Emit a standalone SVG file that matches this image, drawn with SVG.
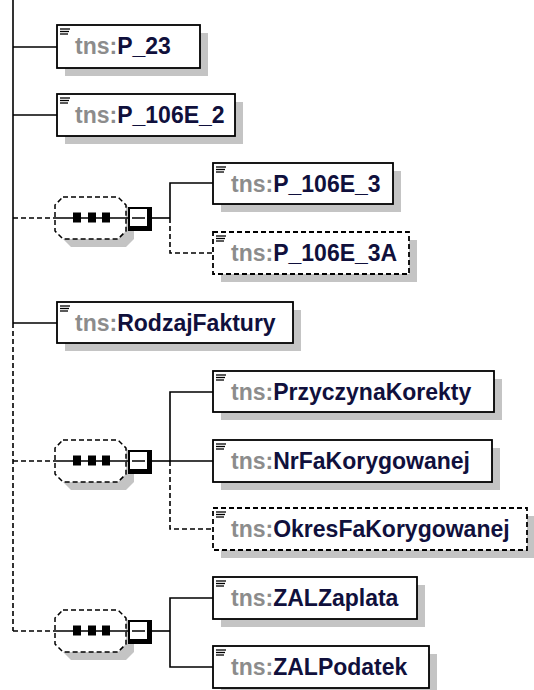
<svg xmlns="http://www.w3.org/2000/svg" width="534" height="690" viewBox="0 0 534 690">
<style>
.bg{fill:#fff}
.sh{fill:#c4c4c4}
.box{fill:#fff;stroke:#000;stroke-width:1.8}
.dash{stroke-dasharray:5,3}
.ln{fill:none;stroke:#000;stroke-width:1.6}
.ico{stroke:#000;stroke-width:1.3}
.t{font-family:"Liberation Sans",Arial,sans-serif;font-weight:bold;font-size:23px}
.pre{fill:#8c8c8c}
.nm{fill:#10103c}
.oct{fill:#fff;stroke:#000;stroke-width:1.5;stroke-dasharray:5,3}
</style>
<defs>
<g id="icon"><line class="ico" x1="3" y1="4" x2="13" y2="4"/><line class="ico" x1="3" y1="6.5" x2="12" y2="6.5"/><line class="ico" x1="3" y1="9" x2="11" y2="9"/></g>
<g id="seq">
<polygon class="sh" points="71,-13 126,-13 134,-5 134,21 126,29 71,29 63,21 63,-5"/>
<polygon class="oct" points="63,-21 118,-21 126,-13 126,13 118,21 63,21 55,13 55,-13"/>
<line class="ln" x1="55" y1="0" x2="128" y2="0"/>
<rect x="73" y="-5.5" width="8" height="10" fill="#000"/>
<rect x="88" y="-5.5" width="8" height="10" fill="#000"/>
<rect x="102" y="-5.5" width="8" height="10" fill="#000"/>
<rect x="128" y="-11" width="24" height="24" fill="#000"/>
<rect x="130" y="-9" width="17" height="17" fill="#fff"/>
<line x1="132" y1="0" x2="145" y2="0" stroke="#000" stroke-width="1.5"/>
<line class="ln" x1="152" y1="0" x2="170" y2="0"/>
</g>
</defs>
<rect class="bg" x="0" y="0" width="534" height="690"/>
<g id="connectors">
<line class="ln" x1="13" y1="0" x2="13" y2="323"/>
<line class="ln dash" x1="13" y1="323" x2="13" y2="631"/>
<line class="ln" x1="13" y1="47" x2="57" y2="47"/>
<line class="ln" x1="13" y1="115" x2="57" y2="115"/>
<line class="ln dash" x1="13" y1="218" x2="55" y2="218"/>
<line class="ln" x1="13" y1="323" x2="57" y2="323"/>
<line class="ln dash" x1="13" y1="461" x2="55" y2="461"/>
<line class="ln dash" x1="13" y1="631" x2="55" y2="631"/>
<polyline class="ln" points="213,183 170,183 170,218"/>
<polyline class="ln dash" points="170,218 170,253 213,253"/>
<polyline class="ln" points="213,392 170,392 170,461 213,461"/>
<polyline class="ln dash" points="170,461 170,529 213,529"/>
<polyline class="ln" points="213,598 170,598 170,667 213,667"/>
</g>
<g id="seq1"><use href="#seq" transform="translate(0,218)"/></g>
<g id="seq2"><use href="#seq" transform="translate(0,461)"/></g>
<g id="seq3"><use href="#seq" transform="translate(0,631)"/></g>
<g id="P_23" transform="translate(57,25)">
<rect class="sh" x="8" y="8" width="143" height="43"/><rect class="box" x="0" y="0" width="143" height="43"/><use href="#icon"/>
<text class="t" x="18" y="29"><tspan class="pre">tns:</tspan><tspan class="nm">P_23</tspan></text></g>
<g id="P_106E_2" transform="translate(57,94)">
<rect class="sh" x="8" y="8" width="178" height="42"/><rect class="box" x="0" y="0" width="178" height="42"/><use href="#icon"/>
<text class="t" x="18" y="29"><tspan class="pre">tns:</tspan><tspan class="nm">P_106E_2</tspan></text></g>
<g id="P_106E_3" transform="translate(213,163)">
<rect class="sh" x="8" y="8" width="180" height="41"/><rect class="box" x="0" y="0" width="180" height="41"/><use href="#icon"/>
<text class="t" x="18" y="29"><tspan class="pre">tns:</tspan><tspan class="nm">P_106E_3</tspan></text></g>
<g id="P_106E_3A" transform="translate(213,232)">
<rect class="sh" x="8" y="8" width="196" height="42"/><rect class="box dash" x="0" y="0" width="196" height="42"/><use href="#icon"/>
<text class="t" x="18" y="29"><tspan class="pre">tns:</tspan><tspan class="nm">P_106E_3A</tspan></text></g>
<g id="RodzajFaktury" transform="translate(57,302)">
<rect class="sh" x="8" y="8" width="236" height="41"/><rect class="box" x="0" y="0" width="236" height="41"/><use href="#icon"/>
<text class="t" x="18" y="29"><tspan class="pre">tns:</tspan><tspan class="nm">RodzajFaktury</tspan></text></g>
<g id="PrzyczynaKorekty" transform="translate(213,371)">
<rect class="sh" x="8" y="8" width="281" height="41"/><rect class="box" x="0" y="0" width="281" height="41"/><use href="#icon"/>
<text class="t" x="18" y="29"><tspan class="pre">tns:</tspan><tspan class="nm">PrzyczynaKorekty</tspan></text></g>
<g id="NrFaKorygowanej" transform="translate(213,440)">
<rect class="sh" x="8" y="8" width="279" height="42"/><rect class="box" x="0" y="0" width="279" height="42"/><use href="#icon"/>
<text class="t" x="18" y="29"><tspan class="pre">tns:</tspan><tspan class="nm">NrFaKorygowanej</tspan></text></g>
<g id="OkresFaKorygowanej" transform="translate(213,508)">
<rect class="sh" x="8" y="8" width="314" height="42"/><rect class="box dash" x="0" y="0" width="314" height="42"/><use href="#icon"/>
<text class="t" x="18" y="29"><tspan class="pre">tns:</tspan><tspan class="nm">OkresFaKorygowanej</tspan></text></g>
<g id="ZALZaplata" transform="translate(213,577)">
<rect class="sh" x="8" y="8" width="204" height="42"/><rect class="box" x="0" y="0" width="204" height="42"/><use href="#icon"/>
<text class="t" x="18" y="29"><tspan class="pre">tns:</tspan><tspan class="nm">ZALZaplata</tspan></text></g>
<g id="ZALPodatek" transform="translate(213,646)">
<rect class="sh" x="8" y="8" width="216" height="42"/><rect class="box" x="0" y="0" width="216" height="42"/><use href="#icon"/>
<text class="t" x="18" y="29"><tspan class="pre">tns:</tspan><tspan class="nm">ZALPodatek</tspan></text></g>
</svg>
